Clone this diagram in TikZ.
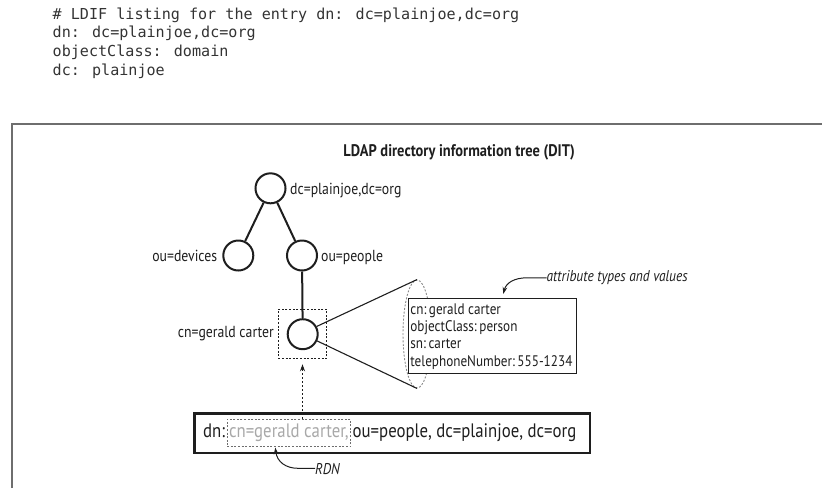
\documentclass[tikz,border=0pt]{standalone}
\usepackage{fontspec}
\usetikzlibrary{arrows.meta,shapes.geometric}
\newfontfamily\cnd[FakeStretch=0.86]{PT Sans}
\newfontfamily\codefont{DejaVu Sans Mono}
\definecolor{ink}{HTML}{1E1E1E}
\definecolor{framegray}{HTML}{6E6E6E}
\definecolor{rdngray}{HTML}{A8A8A8}
\definecolor{codegray}{HTML}{333333}
\definecolor{dashgray}{HTML}{8A8A8A}

\begin{document}
\begin{tikzpicture}[x=1pt,y=-1pt,
  code/.style={anchor=base west, inner sep=0, font=\codefont\fontsize{15.1}{18}\selectfont, text=codegray},
  entry/.style={circle, draw=ink, line width=2pt, minimum size=30pt, inner sep=0},
  lbl/.style={inner sep=0, font=\cnd\fontsize{16}{18}\selectfont, text=ink},
  attrtext/.style={anchor=base west, inner sep=0, font=\cnd\fontsize{15.3}{17}\selectfont, text=ink},
  note/.style={inner sep=0, font=\cnd\itshape\fontsize{15.6}{18}\selectfont, text=ink},
  dnt/.style={inner sep=0, font=\cnd\fontsize{19.5}{22}\selectfont, text=ink},
  treeedge/.style={draw=ink, line width=2pt},
  fanline/.style={draw=ink, line width=1.1pt},
  grayfine/.style={dash pattern=on 2pt off 1.6pt, line width=0.9pt},
  pointer/.style={draw=ink, line width=1pt, -{Stealth[length=7pt,width=4.6pt]}},
  dotarrow/.style={draw=ink, line width=1pt, dash pattern=on 2pt off 2pt, -{Stealth[length=7pt,width=5pt]}}
]
\useasboundingbox (0,0) rectangle (822,488);

% LDIF listing above the figure
\node[code] (code1) at (52.5,19)   {\# LDIF listing for the entry dn: dc=plainjoe,dc=org};
\node[code] (code2) at (52.5,37.7) {dn: dc=plainjoe,dc=org};
\node[code] (code3) at (52.5,56.3) {objectClass: domain};
\node[code] (code4) at (52.5,75)   {dc: plainjoe};

% figure frame (top and left rules)
\draw[framegray, line width=2pt] (11.8,488) -- (11.8,124.3) -- (822,124.3);

% title
\node[inner sep=0, anchor=base, font=\cnd\bfseries\fontsize{16.8}{18}\selectfont, text=ink]
  (title) at (459.2,156.7) {LDAP directory information tree (DIT)};

% tree entries
\node[entry] (root)    at (270.5,188.3) {};
\node[entry] (devices) at (238.3,255.5) {};
\node[entry] (people)  at (302,255.5)   {};
\node[entry] (gerald)  at (302.7,334.2) {};

\draw[treeedge] (root) -- (devices);
\draw[treeedge] (root) -- (people);
\draw[treeedge] (people) -- (gerald);

% entry labels
\node[lbl, anchor=base west] (rootlbl)    at (290,194.3)   {dc=plainjoe,dc=org};
\node[lbl, anchor=base east] (deviceslbl) at (217.3,261.7) {ou=devices};
\node[lbl, anchor=base west] (peoplelbl)  at (321,261.7)   {ou=people};
\node[lbl, anchor=base east] (geraldlbl)  at (274,337.8)   {cn=gerald carter};

% RDN highlight around the leaf entry
\node[draw=ink, grayfine, minimum width=48.4pt, minimum height=49pt, inner sep=0]
  (gbox) at (302.5,333.8) {};

% magnifier cone towards the attribute list
\node[ellipse, draw=dashgray, grayfine, minimum width=28pt, minimum height=108pt, inner sep=0]
  (cone) at (417,334) {};
\draw[fanline] (gerald.29) -- (cone.north);
\draw[fanline] (gerald.-25) -- (cone.south);

% attribute list
\node[draw=ink, fill=white, line width=1.1pt, minimum width=168pt, minimum height=74.5pt, inner sep=0]
  (attrs) at (492.5,335.8) {};
\node[attrtext] (attr1) at (410.2,314.5) {cn:\,gerald carter};
\node[attrtext] (attr2) at (410.2,331.7) {objectClass:\,person};
\node[attrtext] (attr3) at (410.2,348.9) {sn:\,carter};
\node[attrtext] (attr4) at (410.2,366)   {telephoneNumber:\,555-1234};

% callout for the attribute list
\node[note, anchor=base west] (attrnote) at (546.5,281.8) {attribute types and values};
\draw[pointer] (attrnote.west |- 0,277.8) -- (527,277.8)
  .. controls (514,277.8) and (506,283) .. (503.3,294);

% distinguished name
\node[draw=ink, line width=2.4pt, minimum width=395.5pt, minimum height=39.5pt, inner sep=0]
  (dnbox) at (392.25,433.25) {};
\node[dnt, anchor=base west] (dnkey) at (203,437.7) {dn:};
\node[dnt, anchor=base west, text=rdngray, draw=framegray, grayfine, inner xsep=1.8pt, inner ysep=5pt]
  (rdn) at ([xshift=1.5pt]dnkey.base east) {cn=gerald carter,};
\node[dnt, anchor=base west] (dnrest) at ([xshift=1.5pt]rdn.base east) {ou=people, dc=plainjoe, dc=org};

% RDN points to the leaf entry
\draw[dotarrow, shorten >=5.5pt] (rdn.north -| gbox.south) -- (gbox.south);

% RDN callout
\node[note, anchor=base west] (rdnnote) at (315,474) {RDN};
\draw[pointer] (rdnnote.west |- 0,468.3) -- (298,468.3)
  .. controls (286,468.3) and (277,462) .. (275.3,447.5);
\end{tikzpicture}
\end{document}
